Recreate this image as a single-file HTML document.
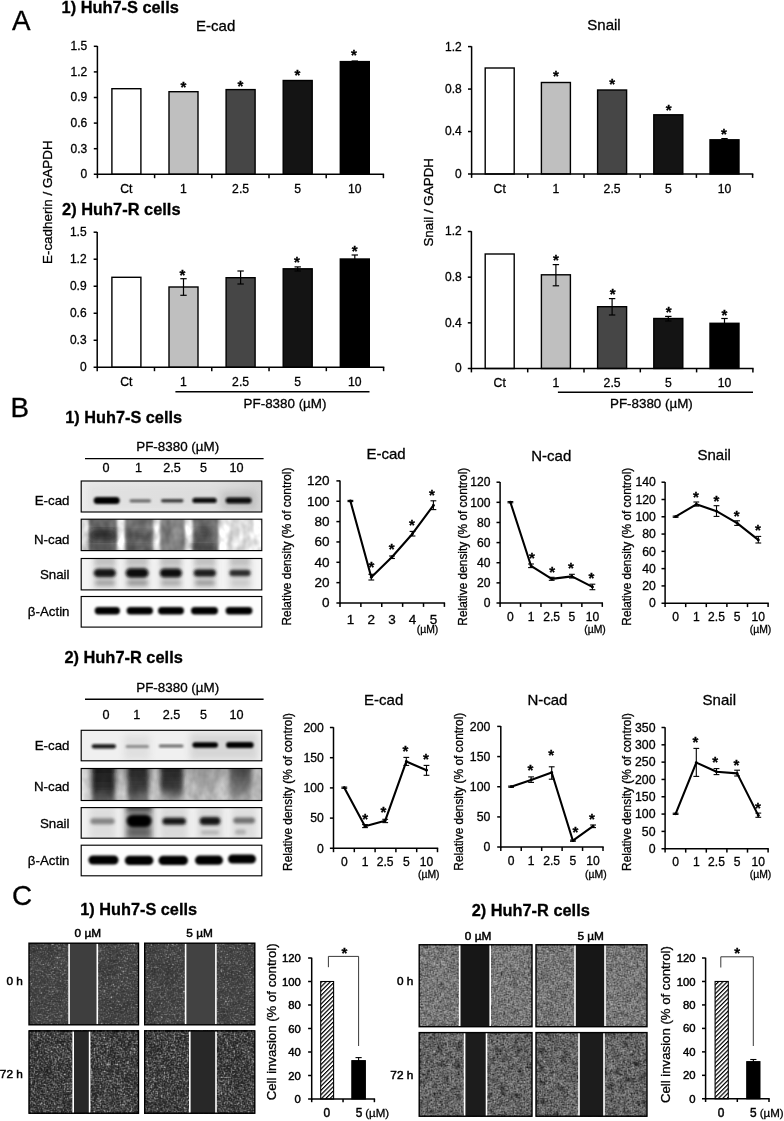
<!DOCTYPE html>
<html lang="en"><head><meta charset="utf-8"><title>Figure</title>
<style>
html,body{margin:0;padding:0;background:#fff;}
body{width:784px;height:1121px;overflow:hidden;}
svg{display:block;font-family:"Liberation Sans",sans-serif;fill:#000;}
svg text{stroke:#000;stroke-width:.3px;}
</style></head><body>
<svg width="784" height="1121" viewBox="0 0 784 1121">
<rect x="0" y="0" width="784" height="1121" fill="#ffffff" stroke="none"/>
<rect x="111.9" y="88.7" width="29" height="85.6" fill="#ffffff" stroke="#000" stroke-width="1.4"/>
<rect x="169" y="91.7" width="29" height="82.6" fill="#bfbfbf" stroke="#000" stroke-width="1.4"/>
<rect x="226.1" y="89.6" width="29" height="84.7" fill="#464646" stroke="#000" stroke-width="1.4"/>
<rect x="283.2" y="80.5" width="29" height="93.8" fill="#141414" stroke="#000" stroke-width="1.4"/>
<rect x="340.3" y="61.6" width="29" height="112.7" fill="#000000" stroke="#000" stroke-width="1.4"/>
<line x1="354.8" y1="61" x2="354.8" y2="62.2" stroke="#000" stroke-width="1.2"/>
<line x1="351.6" y1="61" x2="358" y2="61" stroke="#000" stroke-width="1.2"/>
<line x1="351.6" y1="62.2" x2="358" y2="62.2" stroke="#000" stroke-width="1.2"/>
<line x1="97.4" y1="46" x2="97.4" y2="175" stroke="#000" stroke-width="1.5"/>
<line x1="93.8" y1="174.3" x2="384.1" y2="174.3" stroke="#000" stroke-width="1.5"/>
<text x="87.3" y="178.2" font-size="12" text-anchor="end">0</text>
<line x1="93.8" y1="148.7" x2="97.4" y2="148.7" stroke="#000" stroke-width="1.5"/>
<text x="87.3" y="152.6" font-size="12" text-anchor="end">0.3</text>
<line x1="93.8" y1="123.1" x2="97.4" y2="123.1" stroke="#000" stroke-width="1.5"/>
<text x="87.3" y="127" font-size="12" text-anchor="end">0.6</text>
<line x1="93.8" y1="97.5" x2="97.4" y2="97.5" stroke="#000" stroke-width="1.5"/>
<text x="87.3" y="101.4" font-size="12" text-anchor="end">0.9</text>
<line x1="93.8" y1="71.9" x2="97.4" y2="71.9" stroke="#000" stroke-width="1.5"/>
<text x="87.3" y="75.8" font-size="12" text-anchor="end">1.2</text>
<line x1="93.8" y1="46.3" x2="97.4" y2="46.3" stroke="#000" stroke-width="1.5"/>
<text x="87.3" y="50.2" font-size="12" text-anchor="end">1.5</text>
<line x1="97.4" y1="174.3" x2="97.4" y2="178.2" stroke="#000" stroke-width="1.5"/>
<line x1="154.6" y1="174.3" x2="154.6" y2="178.2" stroke="#000" stroke-width="1.5"/>
<line x1="211.8" y1="174.3" x2="211.8" y2="178.2" stroke="#000" stroke-width="1.5"/>
<line x1="269" y1="174.3" x2="269" y2="178.2" stroke="#000" stroke-width="1.5"/>
<line x1="326.2" y1="174.3" x2="326.2" y2="178.2" stroke="#000" stroke-width="1.5"/>
<line x1="383.4" y1="174.3" x2="383.4" y2="178.2" stroke="#000" stroke-width="1.5"/>
<text x="126.4" y="192.8" font-size="12.2" text-anchor="middle">Ct</text>
<text x="183.5" y="192.8" font-size="12.2" text-anchor="middle">1</text>
<text x="240.6" y="192.8" font-size="12.2" text-anchor="middle">2.5</text>
<text x="297.7" y="192.8" font-size="12.2" text-anchor="middle">5</text>
<text x="354.8" y="192.8" font-size="12.2" text-anchor="middle">10</text>
<text x="183.5" y="92.4" font-size="15" text-anchor="middle" font-weight="bold">*</text>
<text x="240.3" y="90.7" font-size="15" text-anchor="middle" font-weight="bold">*</text>
<text x="297.4" y="79.9" font-size="15" text-anchor="middle" font-weight="bold">*</text>
<text x="353.8" y="59.9" font-size="15" text-anchor="middle" font-weight="bold">*</text>
<rect x="485.2" y="68" width="29" height="106" fill="#ffffff" stroke="#000" stroke-width="1.4"/>
<rect x="541.4" y="82.5" width="29" height="91.5" fill="#bfbfbf" stroke="#000" stroke-width="1.4"/>
<rect x="597.6" y="90" width="29" height="84" fill="#464646" stroke="#000" stroke-width="1.4"/>
<rect x="653.8" y="114.8" width="29" height="59.2" fill="#141414" stroke="#000" stroke-width="1.4"/>
<rect x="710" y="139.8" width="29" height="34.2" fill="#000000" stroke="#000" stroke-width="1.4"/>
<line x1="724.5" y1="138.6" x2="724.5" y2="141" stroke="#000" stroke-width="1.2"/>
<line x1="721.3" y1="138.6" x2="727.7" y2="138.6" stroke="#000" stroke-width="1.2"/>
<line x1="721.3" y1="141" x2="727.7" y2="141" stroke="#000" stroke-width="1.2"/>
<line x1="471.6" y1="46.3" x2="471.6" y2="174.7" stroke="#000" stroke-width="1.5"/>
<line x1="468" y1="174" x2="753.3" y2="174" stroke="#000" stroke-width="1.5"/>
<text x="461.7" y="177.9" font-size="12" text-anchor="end">0</text>
<line x1="468" y1="131.53" x2="471.6" y2="131.53" stroke="#000" stroke-width="1.5"/>
<text x="461.7" y="135.43" font-size="12" text-anchor="end">0.4</text>
<line x1="468" y1="89.07" x2="471.6" y2="89.07" stroke="#000" stroke-width="1.5"/>
<text x="461.7" y="92.97" font-size="12" text-anchor="end">0.8</text>
<line x1="468" y1="46.6" x2="471.6" y2="46.6" stroke="#000" stroke-width="1.5"/>
<text x="461.7" y="50.5" font-size="12" text-anchor="end">1.2</text>
<line x1="471.6" y1="174" x2="471.6" y2="177.9" stroke="#000" stroke-width="1.5"/>
<line x1="527.8" y1="174" x2="527.8" y2="177.9" stroke="#000" stroke-width="1.5"/>
<line x1="584" y1="174" x2="584" y2="177.9" stroke="#000" stroke-width="1.5"/>
<line x1="640.2" y1="174" x2="640.2" y2="177.9" stroke="#000" stroke-width="1.5"/>
<line x1="696.4" y1="174" x2="696.4" y2="177.9" stroke="#000" stroke-width="1.5"/>
<line x1="752.6" y1="174" x2="752.6" y2="177.9" stroke="#000" stroke-width="1.5"/>
<text x="499.7" y="192.8" font-size="12.2" text-anchor="middle">Ct</text>
<text x="555.9" y="192.8" font-size="12.2" text-anchor="middle">1</text>
<text x="612.1" y="192.8" font-size="12.2" text-anchor="middle">2.5</text>
<text x="668.3" y="192.8" font-size="12.2" text-anchor="middle">5</text>
<text x="724.5" y="192.8" font-size="12.2" text-anchor="middle">10</text>
<text x="556" y="80.9" font-size="15" text-anchor="middle" font-weight="bold">*</text>
<text x="612.2" y="88.5" font-size="15" text-anchor="middle" font-weight="bold">*</text>
<text x="668.7" y="115.4" font-size="15" text-anchor="middle" font-weight="bold">*</text>
<text x="723.8" y="138.9" font-size="15" text-anchor="middle" font-weight="bold">*</text>
<rect x="111.9" y="277.3" width="29" height="90" fill="#ffffff" stroke="#000" stroke-width="1.4"/>
<rect x="169" y="287" width="29" height="80.3" fill="#bfbfbf" stroke="#000" stroke-width="1.4"/>
<rect x="226.1" y="277.7" width="29" height="89.6" fill="#464646" stroke="#000" stroke-width="1.4"/>
<rect x="283.2" y="268.8" width="29" height="98.5" fill="#141414" stroke="#000" stroke-width="1.4"/>
<rect x="340.3" y="259" width="29" height="108.3" fill="#000000" stroke="#000" stroke-width="1.4"/>
<line x1="183.5" y1="278.7" x2="183.5" y2="295.3" stroke="#000" stroke-width="1.2"/>
<line x1="180.3" y1="278.7" x2="186.7" y2="278.7" stroke="#000" stroke-width="1.2"/>
<line x1="180.3" y1="295.3" x2="186.7" y2="295.3" stroke="#000" stroke-width="1.2"/>
<line x1="240.6" y1="271" x2="240.6" y2="284" stroke="#000" stroke-width="1.2"/>
<line x1="237.4" y1="271" x2="243.8" y2="271" stroke="#000" stroke-width="1.2"/>
<line x1="237.4" y1="284" x2="243.8" y2="284" stroke="#000" stroke-width="1.2"/>
<line x1="297.7" y1="266.9" x2="297.7" y2="271" stroke="#000" stroke-width="1.2"/>
<line x1="294.5" y1="266.9" x2="300.9" y2="266.9" stroke="#000" stroke-width="1.2"/>
<line x1="294.5" y1="271" x2="300.9" y2="271" stroke="#000" stroke-width="1.2"/>
<line x1="354.8" y1="255" x2="354.8" y2="263" stroke="#000" stroke-width="1.2"/>
<line x1="351.6" y1="255" x2="358" y2="255" stroke="#000" stroke-width="1.2"/>
<line x1="351.6" y1="263" x2="358" y2="263" stroke="#000" stroke-width="1.2"/>
<line x1="97.2" y1="231.9" x2="97.2" y2="368" stroke="#000" stroke-width="1.5"/>
<line x1="93.6" y1="367.3" x2="384.3" y2="367.3" stroke="#000" stroke-width="1.5"/>
<text x="86.6" y="371.2" font-size="12" text-anchor="end">0</text>
<line x1="93.6" y1="340.28" x2="97.2" y2="340.28" stroke="#000" stroke-width="1.5"/>
<text x="86.6" y="344.18" font-size="12" text-anchor="end">0.3</text>
<line x1="93.6" y1="313.26" x2="97.2" y2="313.26" stroke="#000" stroke-width="1.5"/>
<text x="86.6" y="317.16" font-size="12" text-anchor="end">0.6</text>
<line x1="93.6" y1="286.24" x2="97.2" y2="286.24" stroke="#000" stroke-width="1.5"/>
<text x="86.6" y="290.14" font-size="12" text-anchor="end">0.9</text>
<line x1="93.6" y1="259.22" x2="97.2" y2="259.22" stroke="#000" stroke-width="1.5"/>
<text x="86.6" y="263.12" font-size="12" text-anchor="end">1.2</text>
<line x1="93.6" y1="232.2" x2="97.2" y2="232.2" stroke="#000" stroke-width="1.5"/>
<text x="86.6" y="236.1" font-size="12" text-anchor="end">1.5</text>
<line x1="97.2" y1="367.3" x2="97.2" y2="371.2" stroke="#000" stroke-width="1.5"/>
<line x1="154.48" y1="367.3" x2="154.48" y2="371.2" stroke="#000" stroke-width="1.5"/>
<line x1="211.76" y1="367.3" x2="211.76" y2="371.2" stroke="#000" stroke-width="1.5"/>
<line x1="269.04" y1="367.3" x2="269.04" y2="371.2" stroke="#000" stroke-width="1.5"/>
<line x1="326.32" y1="367.3" x2="326.32" y2="371.2" stroke="#000" stroke-width="1.5"/>
<line x1="383.6" y1="367.3" x2="383.6" y2="371.2" stroke="#000" stroke-width="1.5"/>
<text x="126.4" y="385.5" font-size="12.2" text-anchor="middle">Ct</text>
<text x="183.5" y="385.5" font-size="12.2" text-anchor="middle">1</text>
<text x="240.6" y="385.5" font-size="12.2" text-anchor="middle">2.5</text>
<text x="297.7" y="385.5" font-size="12.2" text-anchor="middle">5</text>
<text x="354.8" y="385.5" font-size="12.2" text-anchor="middle">10</text>
<text x="182.5" y="279.5" font-size="15" text-anchor="middle" font-weight="bold">*</text>
<text x="297" y="266.9" font-size="15" text-anchor="middle" font-weight="bold">*</text>
<text x="354.7" y="256.2" font-size="15" text-anchor="middle" font-weight="bold">*</text>
<rect x="485.2" y="254" width="29" height="114.5" fill="#ffffff" stroke="#000" stroke-width="1.4"/>
<rect x="541.4" y="274.8" width="29" height="93.7" fill="#bfbfbf" stroke="#000" stroke-width="1.4"/>
<rect x="597.6" y="306.7" width="29" height="61.8" fill="#464646" stroke="#000" stroke-width="1.4"/>
<rect x="653.8" y="318.5" width="29" height="50" fill="#141414" stroke="#000" stroke-width="1.4"/>
<rect x="710" y="323.3" width="29" height="45.2" fill="#000000" stroke="#000" stroke-width="1.4"/>
<line x1="555.9" y1="264.6" x2="555.9" y2="285.8" stroke="#000" stroke-width="1.2"/>
<line x1="552.7" y1="264.6" x2="559.1" y2="264.6" stroke="#000" stroke-width="1.2"/>
<line x1="552.7" y1="285.8" x2="559.1" y2="285.8" stroke="#000" stroke-width="1.2"/>
<line x1="612.1" y1="298.6" x2="612.1" y2="315" stroke="#000" stroke-width="1.2"/>
<line x1="608.9" y1="298.6" x2="615.3" y2="298.6" stroke="#000" stroke-width="1.2"/>
<line x1="608.9" y1="315" x2="615.3" y2="315" stroke="#000" stroke-width="1.2"/>
<line x1="668.3" y1="316.4" x2="668.3" y2="321" stroke="#000" stroke-width="1.2"/>
<line x1="665.1" y1="316.4" x2="671.5" y2="316.4" stroke="#000" stroke-width="1.2"/>
<line x1="665.1" y1="321" x2="671.5" y2="321" stroke="#000" stroke-width="1.2"/>
<line x1="724.5" y1="318.5" x2="724.5" y2="328" stroke="#000" stroke-width="1.2"/>
<line x1="721.3" y1="318.5" x2="727.7" y2="318.5" stroke="#000" stroke-width="1.2"/>
<line x1="721.3" y1="328" x2="727.7" y2="328" stroke="#000" stroke-width="1.2"/>
<line x1="471.4" y1="231.2" x2="471.4" y2="369.2" stroke="#000" stroke-width="1.5"/>
<line x1="467.8" y1="368.5" x2="753.6" y2="368.5" stroke="#000" stroke-width="1.5"/>
<text x="461.7" y="372.4" font-size="12" text-anchor="end">0</text>
<line x1="467.8" y1="322.83" x2="471.4" y2="322.83" stroke="#000" stroke-width="1.5"/>
<text x="461.7" y="326.73" font-size="12" text-anchor="end">0.4</text>
<line x1="467.8" y1="277.17" x2="471.4" y2="277.17" stroke="#000" stroke-width="1.5"/>
<text x="461.7" y="281.07" font-size="12" text-anchor="end">0.8</text>
<line x1="467.8" y1="231.5" x2="471.4" y2="231.5" stroke="#000" stroke-width="1.5"/>
<text x="461.7" y="235.4" font-size="12" text-anchor="end">1.2</text>
<line x1="471.4" y1="368.5" x2="471.4" y2="372.4" stroke="#000" stroke-width="1.5"/>
<line x1="527.7" y1="368.5" x2="527.7" y2="372.4" stroke="#000" stroke-width="1.5"/>
<line x1="584" y1="368.5" x2="584" y2="372.4" stroke="#000" stroke-width="1.5"/>
<line x1="640.3" y1="368.5" x2="640.3" y2="372.4" stroke="#000" stroke-width="1.5"/>
<line x1="696.6" y1="368.5" x2="696.6" y2="372.4" stroke="#000" stroke-width="1.5"/>
<line x1="752.9" y1="368.5" x2="752.9" y2="372.4" stroke="#000" stroke-width="1.5"/>
<text x="499.7" y="386.8" font-size="12.2" text-anchor="middle">Ct</text>
<text x="555.9" y="386.8" font-size="12.2" text-anchor="middle">1</text>
<text x="612.1" y="386.8" font-size="12.2" text-anchor="middle">2.5</text>
<text x="668.3" y="386.8" font-size="12.2" text-anchor="middle">5</text>
<text x="724.5" y="386.8" font-size="12.2" text-anchor="middle">10</text>
<text x="556" y="264.7" font-size="15" text-anchor="middle" font-weight="bold">*</text>
<text x="612.7" y="298.9" font-size="15" text-anchor="middle" font-weight="bold">*</text>
<text x="668.7" y="316.7" font-size="15" text-anchor="middle" font-weight="bold">*</text>
<text x="724.3" y="319.5" font-size="15" text-anchor="middle" font-weight="bold">*</text>
<text x="11.9" y="29.7" font-size="27.8">A</text>
<text x="61.6" y="12.9" font-size="16.35" font-weight="bold">1) Huh7-S cells</text>
<text x="62.1" y="214.8" font-size="16.4" font-weight="bold">2) Huh7-R cells</text>
<text x="215.7" y="30.5" font-size="15" text-anchor="middle">E-cad</text>
<text x="604" y="30.3" font-size="15" text-anchor="middle">Snail</text>
<text x="52.3" y="202.2" font-size="13.4" text-anchor="middle" transform="rotate(-90 52.3 202.2)">E-cadherin / GAPDH</text>
<text x="433" y="202.3" font-size="13.4" text-anchor="middle" transform="rotate(-90 433 202.3)">Snail / GAPDH</text>
<line x1="175.4" y1="391.7" x2="369.5" y2="391.7" stroke="#000" stroke-width="1.4"/>
<text x="285" y="408" font-size="13.4" text-anchor="middle">PF-8380 (µM)</text>
<line x1="557.9" y1="392.2" x2="753" y2="392.2" stroke="#000" stroke-width="1.4"/>
<text x="651.4" y="407.6" font-size="13.4" text-anchor="middle">PF-8380 (µM)</text>
<defs>
<filter id="bl05" x="-20%" y="-50%" width="140%" height="200%"><feGaussianBlur stdDeviation="0.6"/></filter>
<filter id="bl1" x="-20%" y="-50%" width="140%" height="200%"><feGaussianBlur stdDeviation="1"/></filter>
<filter id="bl15" x="-20%" y="-50%" width="140%" height="200%"><feGaussianBlur stdDeviation="1.5"/></filter>
<filter id="bl2" x="-30%" y="-50%" width="160%" height="200%"><feGaussianBlur stdDeviation="2.2"/></filter>
<filter id="bl3" x="-30%" y="-30%" width="160%" height="160%"><feGaussianBlur stdDeviation="3"/></filter>
<linearGradient id="gE1" x1="0" x2="1" y1="0" y2="0"><stop offset="0" stop-color="#ececec"/><stop offset="0.7" stop-color="#e4e4e4"/><stop offset="1" stop-color="#d2d2d2"/></linearGradient>
<filter id="mot" x="0" y="0" width="100%" height="100%" color-interpolation-filters="sRGB">
<feTurbulence type="fractalNoise" baseFrequency="0.11 0.08" numOctaves="2" seed="5"/>
<feColorMatrix type="matrix" values="1.6 0 0 0 -0.3  1.6 0 0 0 -0.3  1.6 0 0 0 -0.3  0 0 0 0 1" result="n"/>
<feComposite in="SourceGraphic" in2="n" operator="arithmetic" k1="0.36" k2="0.83" k3="0" k4="0"/>
</filter>
<filter id="mot2" x="0" y="0" width="100%" height="100%" color-interpolation-filters="sRGB">
<feTurbulence type="fractalNoise" baseFrequency="0.13 0.09" numOctaves="2" seed="12"/>
<feColorMatrix type="matrix" values="1.6 0 0 0 -0.3  1.6 0 0 0 -0.3  1.6 0 0 0 -0.3  0 0 0 0 1" result="n"/>
<feComposite in="SourceGraphic" in2="n" operator="arithmetic" k1="0.2" k2="0.9" k3="0" k4="0"/>
</filter>
</defs>
<text x="10.6" y="416.9" font-size="27.8">B</text>
<text x="65.3" y="423.3" font-size="16.3" font-weight="bold">1) Huh7-S cells</text>
<text x="177.7" y="451.4" font-size="13.4" text-anchor="middle">PF-8380 (µM)</text>
<line x1="85" y1="458.6" x2="263.6" y2="458.6" stroke="#000" stroke-width="1.4"/>
<text x="106" y="472" font-size="12.6" text-anchor="middle">0</text>
<text x="138.6" y="472" font-size="12.6" text-anchor="middle">1</text>
<text x="172" y="472" font-size="12.6" text-anchor="middle">2.5</text>
<text x="203.6" y="472" font-size="12.6" text-anchor="middle">5</text>
<text x="236.4" y="472" font-size="12.6" text-anchor="middle">10</text>
<text x="69.5" y="505.3" font-size="13.3" text-anchor="end">E-cad</text>
<text x="69.5" y="543.9" font-size="13.3" text-anchor="end">N-cad</text>
<text x="69.5" y="578.9" font-size="13.3" text-anchor="end">Snail</text>
<text x="69.5" y="615.5" font-size="13.3" text-anchor="end">β-Actin</text>
<clipPath id="cp1"><rect x="81.2" y="481" width="180.6" height="31"/></clipPath>
<g clip-path="url(#cp1)">
<rect x="75.2" y="475" width="192.6" height="43" fill="url(#gE1)"/>
<rect x="88" y="484" width="168" height="26" fill="#c8c8c8" opacity="0.25" filter="url(#bl3)"/>
<rect x="93.7" y="497.1" width="26" height="7" rx="3.5" fill="#050505" opacity="1" filter="url(#bl1)"/>
<rect x="129.5" y="499.2" width="21.5" height="3.2" rx="1.6" fill="#6a6a6a" opacity="1" filter="url(#bl1)"/>
<rect x="161" y="499" width="22.5" height="3.6" rx="1.8" fill="#3c3c3c" opacity="1" filter="url(#bl1)"/>
<rect x="192.4" y="497.8" width="24.3" height="5.2" rx="2.6" fill="#0c0c0c" opacity="1" filter="url(#bl1)"/>
<rect x="222" y="492" width="34" height="17" fill="#9a9a9a" opacity="0.35" filter="url(#bl3)"/>
<rect x="225.6" y="497.6" width="26" height="6" rx="3" fill="#0a0a0a" opacity="1" filter="url(#bl1)"/>
</g>
<rect x="81.2" y="481" width="180.6" height="31" fill="none" stroke="#000" stroke-width="1.15"/>
<clipPath id="cp2"><rect x="81.2" y="519.2" width="180.6" height="31.4"/></clipPath>
<g clip-path="url(#cp2)">
<g filter="url(#mot)">
<rect x="75.2" y="513.2" width="192.6" height="43.4" fill="#f8f8f8"/>
<rect x="76" y="510" width="11" height="50" fill="#d0d0d0" opacity="0.8" filter="url(#bl15)"/>
<rect x="88.5" y="510" width="28.5" height="50" fill="#5a5a5a" opacity="0.95" filter="url(#bl15)"/>
<rect x="125" y="510" width="28.5" height="50" fill="#666666" opacity="0.95" filter="url(#bl15)"/>
<rect x="160" y="510" width="25" height="50" fill="#747474" opacity="0.92" filter="url(#bl15)"/>
<rect x="192.5" y="510" width="26" height="50" fill="#626262" opacity="0.95" filter="url(#bl15)"/>
<rect x="227" y="510" width="26" height="50" fill="#d6d6d6" opacity="0.85" filter="url(#bl2)"/>
<rect x="89" y="530" width="28" height="10" rx="5" fill="#181818" opacity="0.7" filter="url(#bl3)"/>
<rect x="125" y="531.5" width="28" height="9" rx="4.5" fill="#2a2a2a" opacity="0.45" filter="url(#bl3)"/>
<rect x="125" y="545.5" width="28" height="6" rx="3" fill="#2a2a2a" opacity="0.45" filter="url(#bl3)"/>
<rect x="89" y="546" width="28" height="5" rx="2.5" fill="#2a2a2a" opacity="0.35" filter="url(#bl3)"/>
<rect x="193" y="529" width="20" height="10" rx="5" fill="#242424" opacity="0.45" filter="url(#bl3)"/>
<rect x="192" y="545" width="22" height="6" rx="3" fill="#181818" opacity="0.65" filter="url(#bl3)"/>
</g>
</g>
<rect x="81.2" y="519.2" width="180.6" height="31.4" fill="none" stroke="#000" stroke-width="1.15"/>
<clipPath id="cp3"><rect x="81.2" y="558.5" width="180.6" height="31.4"/></clipPath>
<g clip-path="url(#cp3)">
<rect x="75.2" y="552.5" width="192.6" height="43.4" fill="#f5f5f5"/>
<rect x="92.7" y="556" width="24.3" height="36" fill="#c0c0c0" opacity="0.45" filter="url(#bl3)"/>
<rect x="94.7" y="556" width="20.3" height="10" fill="#9a9a9a" opacity="0.4" filter="url(#bl2)"/>
<rect x="93.7" y="568.75" width="22.3" height="8.5" rx="4.25" fill="#161616" opacity="1" filter="url(#bl15)"/>
<rect x="124.6" y="556" width="25" height="36" fill="#c0c0c0" opacity="0.45" filter="url(#bl3)"/>
<rect x="126.6" y="556" width="21" height="10" fill="#9a9a9a" opacity="0.4" filter="url(#bl2)"/>
<rect x="125.6" y="568.25" width="23" height="9.5" rx="4.75" fill="#080808" opacity="1" filter="url(#bl15)"/>
<rect x="158.8" y="556" width="24.2" height="36" fill="#c0c0c0" opacity="0.45" filter="url(#bl3)"/>
<rect x="160.8" y="556" width="20.2" height="10" fill="#9a9a9a" opacity="0.4" filter="url(#bl2)"/>
<rect x="159.8" y="568.5" width="22.2" height="9" rx="4.5" fill="#0c0c0c" opacity="1" filter="url(#bl15)"/>
<rect x="192.7" y="556" width="24.3" height="36" fill="#c0c0c0" opacity="0.45" filter="url(#bl3)"/>
<rect x="194.7" y="556" width="20.3" height="10" fill="#9a9a9a" opacity="0.4" filter="url(#bl2)"/>
<rect x="193.7" y="569.25" width="22.3" height="7.5" rx="3.75" fill="#1c1c1c" opacity="1" filter="url(#bl15)"/>
<rect x="228.4" y="556" width="23.2" height="36" fill="#c0c0c0" opacity="0.45" filter="url(#bl3)"/>
<rect x="230.4" y="556" width="19.2" height="10" fill="#9a9a9a" opacity="0.4" filter="url(#bl2)"/>
<rect x="229.4" y="569.75" width="21.2" height="6.5" rx="3.25" fill="#2c2c2c" opacity="1" filter="url(#bl15)"/>
<rect x="95" y="580.3" width="20" height="5" rx="2.5" fill="#707070" opacity="0.6" filter="url(#bl2)"/>
<rect x="127" y="580.3" width="21" height="5" rx="2.5" fill="#707070" opacity="0.7" filter="url(#bl2)"/>
<rect x="161" y="580.3" width="20" height="5" rx="2.5" fill="#707070" opacity="0.5" filter="url(#bl2)"/>
<rect x="195" y="580.3" width="20" height="5" rx="2.5" fill="#707070" opacity="0.65" filter="url(#bl2)"/>
<rect x="231" y="580.3" width="19" height="5" rx="2.5" fill="#707070" opacity="0.2" filter="url(#bl2)"/>
</g>
<rect x="81.2" y="558.5" width="180.6" height="31.4" fill="none" stroke="#000" stroke-width="1.15"/>
<clipPath id="cp4"><rect x="81.2" y="596.5" width="180.6" height="30.6"/></clipPath>
<g clip-path="url(#cp4)">
<rect x="75.2" y="590.5" width="192.6" height="42.6" fill="#fdfdfd"/>
<rect x="94.7" y="607" width="25.3" height="7.4" rx="3.7" fill="#000" opacity="1" filter="url(#bl1)"/>
<rect x="126.6" y="607" width="26.4" height="7.4" rx="3.7" fill="#000" opacity="1" filter="url(#bl1)"/>
<rect x="158" y="607" width="26" height="7.4" rx="3.7" fill="#000" opacity="1" filter="url(#bl1)"/>
<rect x="191" y="607" width="27" height="7.4" rx="3.7" fill="#000" opacity="1" filter="url(#bl1)"/>
<rect x="225.6" y="607" width="26.8" height="7.4" rx="3.7" fill="#000" opacity="1" filter="url(#bl1)"/>
</g>
<rect x="81.2" y="596.5" width="180.6" height="30.6" fill="none" stroke="#000" stroke-width="1.15"/>
<text x="64.4" y="663" font-size="16.4" font-weight="bold">2) Huh7-R cells</text>
<text x="177.7" y="691.8" font-size="13.4" text-anchor="middle">PF-8380 (µM)</text>
<line x1="85" y1="699.3" x2="263.6" y2="699.3" stroke="#000" stroke-width="1.4"/>
<text x="106" y="719.3" font-size="12.6" text-anchor="middle">0</text>
<text x="136.8" y="719.3" font-size="12.6" text-anchor="middle">1</text>
<text x="171.4" y="719.3" font-size="12.6" text-anchor="middle">2.5</text>
<text x="203.6" y="719.3" font-size="12.6" text-anchor="middle">5</text>
<text x="236.4" y="719.3" font-size="12.6" text-anchor="middle">10</text>
<text x="69.5" y="750.3" font-size="13.3" text-anchor="end">E-cad</text>
<text x="69.5" y="790.7" font-size="13.3" text-anchor="end">N-cad</text>
<text x="69.5" y="828.3" font-size="13.3" text-anchor="end">Snail</text>
<text x="69.5" y="865" font-size="13.3" text-anchor="end">β-Actin</text>
<clipPath id="cp5"><rect x="81.2" y="730.3" width="180.6" height="30.5"/></clipPath>
<g clip-path="url(#cp5)">
<rect x="75.2" y="724.3" width="192.6" height="42.5" fill="#f0f0f0"/>
<rect x="190" y="733" width="68" height="27" fill="#bdbdbd" opacity="0.5" filter="url(#bl3)"/>
<rect x="124" y="735" width="26" height="25" fill="#d0d0d0" opacity="0.5" filter="url(#bl3)"/>
<rect x="91.7" y="744.2" width="24.3" height="4.2" rx="2.1" fill="#161616" opacity="1" filter="url(#bl1)"/>
<rect x="125.6" y="745.1" width="23.4" height="3" rx="1.5" fill="#8c8c8c" opacity="1" filter="url(#bl1)"/>
<rect x="158.8" y="744.5" width="24.7" height="3" rx="1.5" fill="#6c6c6c" opacity="1" filter="url(#bl1)"/>
<rect x="192.4" y="742.2" width="25.6" height="5.6" rx="2.8" fill="#060606" opacity="1" filter="url(#bl1)"/>
<rect x="226" y="741.9" width="27.7" height="6.2" rx="3.1" fill="#060606" opacity="1" filter="url(#bl1)"/>
</g>
<rect x="81.2" y="730.3" width="180.6" height="30.5" fill="none" stroke="#000" stroke-width="1.15"/>
<defs>
<linearGradient id="gN0" gradientUnits="userSpaceOnUse" x1="0" x2="0" y1="768.5" y2="800.5"><stop offset="0" stop-color="#161616"/><stop offset="0.6" stop-color="#242424"/><stop offset="1" stop-color="#5a5a5a"/></linearGradient>
<linearGradient id="gN1" gradientUnits="userSpaceOnUse" x1="0" x2="0" y1="768.5" y2="800.5"><stop offset="0" stop-color="#1e1e1e"/><stop offset="0.6" stop-color="#2e2e2e"/><stop offset="1" stop-color="#6a6a6a"/></linearGradient>
<linearGradient id="gN2" gradientUnits="userSpaceOnUse" x1="0" x2="0" y1="768.5" y2="800.5"><stop offset="0" stop-color="#1c1c1c"/><stop offset="0.6" stop-color="#303030"/><stop offset="1" stop-color="#9a9a9a"/></linearGradient>
<linearGradient id="gN3" gradientUnits="userSpaceOnUse" x1="0" x2="0" y1="768.5" y2="800.5"><stop offset="0" stop-color="#8c8c8c"/><stop offset="0.6" stop-color="#a4a4a4"/><stop offset="1" stop-color="#b4b4b4"/></linearGradient>
<linearGradient id="gN4" gradientUnits="userSpaceOnUse" x1="0" x2="0" y1="768.5" y2="800.5"><stop offset="0" stop-color="#3c3c3c"/><stop offset="0.6" stop-color="#686868"/><stop offset="1" stop-color="#9c9c9c"/></linearGradient>
<linearGradient id="gNb" gradientUnits="userSpaceOnUse" x1="0" x2="0" y1="768.5" y2="800.5"><stop offset="0" stop-color="#a8a8a8"/><stop offset="0.6" stop-color="#c0c0c0"/><stop offset="1" stop-color="#cacaca"/></linearGradient>
</defs>
<clipPath id="cp6"><rect x="81.2" y="768.5" width="180.6" height="32"/></clipPath>
<g clip-path="url(#cp6)">
<g filter="url(#mot2)">
<rect x="75.2" y="762.5" width="192.6" height="44" fill="url(#gNb)"/>
<rect x="74" y="758" width="13" height="53" fill="#ececec" opacity="0.7" filter="url(#bl2)"/>
<rect x="92" y="758" width="23" height="53" fill="url(#gN0)" opacity="0.95" filter="url(#bl2)"/>
<rect x="127.5" y="758" width="21" height="53" fill="url(#gN1)" opacity="0.93" filter="url(#bl2)"/>
<rect x="160.5" y="758" width="22.5" height="53" fill="url(#gN2)" opacity="0.93" filter="url(#bl2)"/>
<rect x="193" y="758" width="24" height="53" fill="url(#gN3)" opacity="0.8" filter="url(#bl3)"/>
<rect x="229.5" y="758" width="22" height="53" fill="url(#gN4)" opacity="0.9" filter="url(#bl2)"/>
<rect x="256" y="758" width="10" height="53" fill="#b0b0b0" opacity="0.6" filter="url(#bl2)"/>
</g>
</g>
<rect x="81.2" y="768.5" width="180.6" height="32" fill="none" stroke="#000" stroke-width="1.15"/>
<clipPath id="cp7"><rect x="81.2" y="807.6" width="180.6" height="30.6"/></clipPath>
<g clip-path="url(#cp7)">
<rect x="75.2" y="801.6" width="192.6" height="42.6" fill="#f3f3f3"/>
<rect x="89" y="806" width="27" height="34" fill="#c4c4c4" opacity="0.45" filter="url(#bl3)"/>
<rect x="160" y="806" width="28" height="34" fill="#c4c4c4" opacity="0.55" filter="url(#bl3)"/>
<rect x="197" y="806" width="26" height="34" fill="#c4c4c4" opacity="0.55" filter="url(#bl3)"/>
<rect x="231" y="806" width="26" height="34" fill="#c4c4c4" opacity="0.45" filter="url(#bl3)"/>
<rect x="125" y="800" width="28" height="46" fill="#4a4a4a" opacity="0.6" filter="url(#bl3)"/>
<rect x="127" y="805" width="24" height="6" fill="#202020" opacity="0.6" filter="url(#bl2)"/>
<rect x="128" y="828" width="22" height="8" fill="#303030" opacity="0.45" filter="url(#bl2)"/>
<rect x="90.4" y="818.2" width="24.2" height="6" rx="3" fill="#858585" opacity="1" filter="url(#bl15)"/>
<rect x="126.6" y="814.75" width="25" height="12.5" rx="6.25" fill="#020202" opacity="1" filter="url(#bl15)"/>
<rect x="162.3" y="817.7" width="23.7" height="7" rx="3.5" fill="#141414" opacity="1" filter="url(#bl15)"/>
<rect x="199.6" y="817" width="20.9" height="8" rx="4" fill="#161616" opacity="1" filter="url(#bl15)"/>
<rect x="233.3" y="817.6" width="21.7" height="6" rx="3" fill="#707070" opacity="1" filter="url(#bl15)"/>
<rect x="201" y="830.75" width="18" height="3.5" rx="1.75" fill="#8a8a8a" opacity="0.5" filter="url(#bl15)"/>
<rect x="235" y="829.5" width="11" height="5" rx="2.5" fill="#8a8a8a" opacity="0.55" filter="url(#bl15)"/>
</g>
<rect x="81.2" y="807.6" width="180.6" height="30.6" fill="none" stroke="#000" stroke-width="1.15"/>
<clipPath id="cp8"><rect x="81.2" y="845.2" width="180.6" height="30.6"/></clipPath>
<g clip-path="url(#cp8)">
<rect x="75.2" y="839.2" width="192.6" height="42.6" fill="#fdfdfd"/>
<rect x="88.4" y="855.4" width="30.1" height="9.2" rx="4.6" fill="#000" opacity="1" filter="url(#bl1)"/>
<rect x="124.8" y="855.8" width="28.6" height="9.2" rx="4.6" fill="#000" opacity="1" filter="url(#bl1)"/>
<rect x="158.5" y="855.8" width="29.5" height="9.2" rx="4.6" fill="#000" opacity="1" filter="url(#bl1)"/>
<rect x="195" y="855.6" width="28" height="9.2" rx="4.6" fill="#000" opacity="1" filter="url(#bl1)"/>
<rect x="228" y="854.4" width="28" height="9.2" rx="4.6" fill="#000" opacity="1" filter="url(#bl1)"/>
</g>
<rect x="81.2" y="845.2" width="180.6" height="30.6" fill="none" stroke="#000" stroke-width="1.15"/>
<line x1="340" y1="480.6" x2="340" y2="603.7" stroke="#000" stroke-width="1.5"/>
<line x1="336.4" y1="603" x2="445.1" y2="603" stroke="#000" stroke-width="1.5"/>
<text x="329.5" y="607.25" font-size="13.5" text-anchor="end">0</text>
<line x1="336.4" y1="582.65" x2="340" y2="582.65" stroke="#000" stroke-width="1.5"/>
<text x="329.5" y="586.9" font-size="13.5" text-anchor="end">20</text>
<line x1="336.4" y1="562.3" x2="340" y2="562.3" stroke="#000" stroke-width="1.5"/>
<text x="329.5" y="566.55" font-size="13.5" text-anchor="end">40</text>
<line x1="336.4" y1="541.95" x2="340" y2="541.95" stroke="#000" stroke-width="1.5"/>
<text x="329.5" y="546.2" font-size="13.5" text-anchor="end">60</text>
<line x1="336.4" y1="521.6" x2="340" y2="521.6" stroke="#000" stroke-width="1.5"/>
<text x="329.5" y="525.85" font-size="13.5" text-anchor="end">80</text>
<line x1="336.4" y1="501.25" x2="340" y2="501.25" stroke="#000" stroke-width="1.5"/>
<text x="329.5" y="505.5" font-size="13.5" text-anchor="end">100</text>
<line x1="336.4" y1="480.9" x2="340" y2="480.9" stroke="#000" stroke-width="1.5"/>
<text x="329.5" y="485.15" font-size="13.5" text-anchor="end">120</text>
<line x1="340" y1="603" x2="340" y2="606.9" stroke="#000" stroke-width="1.5"/>
<line x1="360.88" y1="603" x2="360.88" y2="606.9" stroke="#000" stroke-width="1.5"/>
<line x1="381.76" y1="603" x2="381.76" y2="606.9" stroke="#000" stroke-width="1.5"/>
<line x1="402.64" y1="603" x2="402.64" y2="606.9" stroke="#000" stroke-width="1.5"/>
<line x1="423.52" y1="603" x2="423.52" y2="606.9" stroke="#000" stroke-width="1.5"/>
<line x1="444.4" y1="603" x2="444.4" y2="606.9" stroke="#000" stroke-width="1.5"/>
<line x1="350.4" y1="500.4" x2="350.4" y2="501.6" stroke="#000" stroke-width="1.1"/>
<line x1="347.5" y1="500.4" x2="353.3" y2="500.4" stroke="#000" stroke-width="1.1"/>
<line x1="347.5" y1="501.6" x2="353.3" y2="501.6" stroke="#000" stroke-width="1.1"/>
<line x1="371.3" y1="574.3" x2="371.3" y2="580" stroke="#000" stroke-width="1.1"/>
<line x1="368.4" y1="574.3" x2="374.2" y2="574.3" stroke="#000" stroke-width="1.1"/>
<line x1="368.4" y1="580" x2="374.2" y2="580" stroke="#000" stroke-width="1.1"/>
<line x1="392" y1="556" x2="392" y2="558.5" stroke="#000" stroke-width="1.1"/>
<line x1="389.1" y1="556" x2="394.9" y2="556" stroke="#000" stroke-width="1.1"/>
<line x1="389.1" y1="558.5" x2="394.9" y2="558.5" stroke="#000" stroke-width="1.1"/>
<line x1="412.5" y1="531.4" x2="412.5" y2="536" stroke="#000" stroke-width="1.1"/>
<line x1="409.6" y1="531.4" x2="415.4" y2="531.4" stroke="#000" stroke-width="1.1"/>
<line x1="409.6" y1="536" x2="415.4" y2="536" stroke="#000" stroke-width="1.1"/>
<line x1="433.4" y1="500.8" x2="433.4" y2="509.6" stroke="#000" stroke-width="1.1"/>
<line x1="430.5" y1="500.8" x2="436.3" y2="500.8" stroke="#000" stroke-width="1.1"/>
<line x1="430.5" y1="509.6" x2="436.3" y2="509.6" stroke="#000" stroke-width="1.1"/>
<polyline points="350.4,501 371.3,577.3 392,557 412.5,533.7 433.4,505.4" fill="none" stroke="#000" stroke-width="2.1" stroke-linejoin="round" stroke-linecap="round"/>
<circle cx="350.4" cy="501" r="1.4" fill="#000"/>
<circle cx="371.3" cy="577.3" r="1.4" fill="#000"/>
<circle cx="392" cy="557" r="1.4" fill="#000"/>
<circle cx="412.5" cy="533.7" r="1.4" fill="#000"/>
<circle cx="433.4" cy="505.4" r="1.4" fill="#000"/>
<text x="371.4" y="571.9" font-size="15" text-anchor="middle" font-weight="bold">*</text>
<text x="391.6" y="554.3" font-size="15" text-anchor="middle" font-weight="bold">*</text>
<text x="412" y="529.9" font-size="15" text-anchor="middle" font-weight="bold">*</text>
<text x="432" y="500.4" font-size="15" text-anchor="middle" font-weight="bold">*</text>
<text x="350.4" y="623.6" font-size="13.5" text-anchor="middle">1</text>
<text x="371.3" y="623.6" font-size="13.5" text-anchor="middle">2</text>
<text x="392" y="623.6" font-size="13.5" text-anchor="middle">3</text>
<text x="412.5" y="623.6" font-size="13.5" text-anchor="middle">4</text>
<text x="433.4" y="623.6" font-size="13.5" text-anchor="middle">5</text>
<text x="427.5" y="632.9" font-size="10.4" text-anchor="middle">(µM)</text>
<text x="386" y="459.2" font-size="15" text-anchor="middle">E-cad</text>
<text x="290.8" y="546.5" font-size="11.9" text-anchor="middle" transform="rotate(-90 290.8 546.5)">Relative density (% of control)</text>
<line x1="500.1" y1="481.9" x2="500.1" y2="603.7" stroke="#000" stroke-width="1.5"/>
<line x1="496.5" y1="603" x2="603" y2="603" stroke="#000" stroke-width="1.5"/>
<text x="490.5" y="607.25" font-size="12.1" text-anchor="end">0</text>
<line x1="496.5" y1="582.87" x2="500.1" y2="582.87" stroke="#000" stroke-width="1.5"/>
<text x="490.5" y="587.12" font-size="12.1" text-anchor="end">20</text>
<line x1="496.5" y1="562.73" x2="500.1" y2="562.73" stroke="#000" stroke-width="1.5"/>
<text x="490.5" y="566.98" font-size="12.1" text-anchor="end">40</text>
<line x1="496.5" y1="542.6" x2="500.1" y2="542.6" stroke="#000" stroke-width="1.5"/>
<text x="490.5" y="546.85" font-size="12.1" text-anchor="end">60</text>
<line x1="496.5" y1="522.47" x2="500.1" y2="522.47" stroke="#000" stroke-width="1.5"/>
<text x="490.5" y="526.72" font-size="12.1" text-anchor="end">80</text>
<line x1="496.5" y1="502.33" x2="500.1" y2="502.33" stroke="#000" stroke-width="1.5"/>
<text x="490.5" y="506.58" font-size="12.1" text-anchor="end">100</text>
<line x1="496.5" y1="482.2" x2="500.1" y2="482.2" stroke="#000" stroke-width="1.5"/>
<text x="490.5" y="486.45" font-size="12.1" text-anchor="end">120</text>
<line x1="500.1" y1="603" x2="500.1" y2="606.9" stroke="#000" stroke-width="1.5"/>
<line x1="520.54" y1="603" x2="520.54" y2="606.9" stroke="#000" stroke-width="1.5"/>
<line x1="540.98" y1="603" x2="540.98" y2="606.9" stroke="#000" stroke-width="1.5"/>
<line x1="561.42" y1="603" x2="561.42" y2="606.9" stroke="#000" stroke-width="1.5"/>
<line x1="581.86" y1="603" x2="581.86" y2="606.9" stroke="#000" stroke-width="1.5"/>
<line x1="602.3" y1="603" x2="602.3" y2="606.9" stroke="#000" stroke-width="1.5"/>
<line x1="510.4" y1="501.6" x2="510.4" y2="502.8" stroke="#000" stroke-width="1.1"/>
<line x1="507.5" y1="501.6" x2="513.3" y2="501.6" stroke="#000" stroke-width="1.1"/>
<line x1="507.5" y1="502.8" x2="513.3" y2="502.8" stroke="#000" stroke-width="1.1"/>
<line x1="531" y1="564" x2="531" y2="567.6" stroke="#000" stroke-width="1.1"/>
<line x1="528.1" y1="564" x2="533.9" y2="564" stroke="#000" stroke-width="1.1"/>
<line x1="528.1" y1="567.6" x2="533.9" y2="567.6" stroke="#000" stroke-width="1.1"/>
<line x1="551.7" y1="577.3" x2="551.7" y2="580.3" stroke="#000" stroke-width="1.1"/>
<line x1="548.8" y1="577.3" x2="554.6" y2="577.3" stroke="#000" stroke-width="1.1"/>
<line x1="548.8" y1="580.3" x2="554.6" y2="580.3" stroke="#000" stroke-width="1.1"/>
<line x1="571.9" y1="574.3" x2="571.9" y2="578" stroke="#000" stroke-width="1.1"/>
<line x1="569" y1="574.3" x2="574.8" y2="574.3" stroke="#000" stroke-width="1.1"/>
<line x1="569" y1="578" x2="574.8" y2="578" stroke="#000" stroke-width="1.1"/>
<line x1="592.4" y1="584.2" x2="592.4" y2="589.7" stroke="#000" stroke-width="1.1"/>
<line x1="589.5" y1="584.2" x2="595.3" y2="584.2" stroke="#000" stroke-width="1.1"/>
<line x1="589.5" y1="589.7" x2="595.3" y2="589.7" stroke="#000" stroke-width="1.1"/>
<polyline points="510.4,502.2 531,565.8 551.7,578.9 571.9,576.4 592.4,586.9" fill="none" stroke="#000" stroke-width="2.1" stroke-linejoin="round" stroke-linecap="round"/>
<circle cx="510.4" cy="502.2" r="1.4" fill="#000"/>
<circle cx="531" cy="565.8" r="1.4" fill="#000"/>
<circle cx="551.7" cy="578.9" r="1.4" fill="#000"/>
<circle cx="571.9" cy="576.4" r="1.4" fill="#000"/>
<circle cx="592.4" cy="586.9" r="1.4" fill="#000"/>
<text x="531.8" y="562.9" font-size="15" text-anchor="middle" font-weight="bold">*</text>
<text x="552.2" y="577.3" font-size="15" text-anchor="middle" font-weight="bold">*</text>
<text x="570.8" y="573.2" font-size="15" text-anchor="middle" font-weight="bold">*</text>
<text x="591.5" y="583" font-size="15" text-anchor="middle" font-weight="bold">*</text>
<text x="510.4" y="621.4" font-size="12.1" text-anchor="middle">0</text>
<text x="531" y="621.4" font-size="12.1" text-anchor="middle">1</text>
<text x="551.7" y="621.4" font-size="12.1" text-anchor="middle">2.5</text>
<text x="571.9" y="621.4" font-size="12.1" text-anchor="middle">5</text>
<text x="592.4" y="621.4" font-size="12.1" text-anchor="middle">10</text>
<text x="595" y="632.9" font-size="10.4" text-anchor="middle">(µM)</text>
<text x="551.3" y="460.7" font-size="15" text-anchor="middle">N-cad</text>
<text x="467.2" y="546.7" font-size="11.9" text-anchor="middle" transform="rotate(-90 467.2 546.7)">Relative density (% of control)</text>
<line x1="665.1" y1="481.9" x2="665.1" y2="603.9" stroke="#000" stroke-width="1.5"/>
<line x1="661.5" y1="603.2" x2="768.8" y2="603.2" stroke="#000" stroke-width="1.5"/>
<text x="655.8" y="607.45" font-size="12.2" text-anchor="end">0</text>
<line x1="661.5" y1="585.91" x2="665.1" y2="585.91" stroke="#000" stroke-width="1.5"/>
<text x="655.8" y="590.16" font-size="12.2" text-anchor="end">20</text>
<line x1="661.5" y1="568.63" x2="665.1" y2="568.63" stroke="#000" stroke-width="1.5"/>
<text x="655.8" y="572.88" font-size="12.2" text-anchor="end">40</text>
<line x1="661.5" y1="551.34" x2="665.1" y2="551.34" stroke="#000" stroke-width="1.5"/>
<text x="655.8" y="555.59" font-size="12.2" text-anchor="end">60</text>
<line x1="661.5" y1="534.06" x2="665.1" y2="534.06" stroke="#000" stroke-width="1.5"/>
<text x="655.8" y="538.31" font-size="12.2" text-anchor="end">80</text>
<line x1="661.5" y1="516.77" x2="665.1" y2="516.77" stroke="#000" stroke-width="1.5"/>
<text x="655.8" y="521.02" font-size="12.2" text-anchor="end">100</text>
<line x1="661.5" y1="499.49" x2="665.1" y2="499.49" stroke="#000" stroke-width="1.5"/>
<text x="655.8" y="503.74" font-size="12.2" text-anchor="end">120</text>
<line x1="661.5" y1="482.2" x2="665.1" y2="482.2" stroke="#000" stroke-width="1.5"/>
<text x="655.8" y="486.45" font-size="12.2" text-anchor="end">140</text>
<line x1="665.1" y1="603.2" x2="665.1" y2="607.1" stroke="#000" stroke-width="1.5"/>
<line x1="685.7" y1="603.2" x2="685.7" y2="607.1" stroke="#000" stroke-width="1.5"/>
<line x1="706.3" y1="603.2" x2="706.3" y2="607.1" stroke="#000" stroke-width="1.5"/>
<line x1="726.9" y1="603.2" x2="726.9" y2="607.1" stroke="#000" stroke-width="1.5"/>
<line x1="747.5" y1="603.2" x2="747.5" y2="607.1" stroke="#000" stroke-width="1.5"/>
<line x1="768.1" y1="603.2" x2="768.1" y2="607.1" stroke="#000" stroke-width="1.5"/>
<line x1="675.6" y1="516.1" x2="675.6" y2="517.3" stroke="#000" stroke-width="1.1"/>
<line x1="672.7" y1="516.1" x2="678.5" y2="516.1" stroke="#000" stroke-width="1.1"/>
<line x1="672.7" y1="517.3" x2="678.5" y2="517.3" stroke="#000" stroke-width="1.1"/>
<line x1="696.3" y1="502" x2="696.3" y2="506.1" stroke="#000" stroke-width="1.1"/>
<line x1="693.4" y1="502" x2="699.2" y2="502" stroke="#000" stroke-width="1.1"/>
<line x1="693.4" y1="506.1" x2="699.2" y2="506.1" stroke="#000" stroke-width="1.1"/>
<line x1="716.5" y1="505.7" x2="716.5" y2="516.4" stroke="#000" stroke-width="1.1"/>
<line x1="713.6" y1="505.7" x2="719.4" y2="505.7" stroke="#000" stroke-width="1.1"/>
<line x1="713.6" y1="516.4" x2="719.4" y2="516.4" stroke="#000" stroke-width="1.1"/>
<line x1="737.1" y1="520.8" x2="737.1" y2="525.4" stroke="#000" stroke-width="1.1"/>
<line x1="734.2" y1="520.8" x2="740" y2="520.8" stroke="#000" stroke-width="1.1"/>
<line x1="734.2" y1="525.4" x2="740" y2="525.4" stroke="#000" stroke-width="1.1"/>
<line x1="758.3" y1="536.4" x2="758.3" y2="543" stroke="#000" stroke-width="1.1"/>
<line x1="755.4" y1="536.4" x2="761.2" y2="536.4" stroke="#000" stroke-width="1.1"/>
<line x1="755.4" y1="543" x2="761.2" y2="543" stroke="#000" stroke-width="1.1"/>
<polyline points="675.6,516.7 696.3,504.3 716.5,511.2 737.1,523.1 758.3,539.9" fill="none" stroke="#000" stroke-width="2.1" stroke-linejoin="round" stroke-linecap="round"/>
<circle cx="675.6" cy="516.7" r="1.4" fill="#000"/>
<circle cx="696.3" cy="504.3" r="1.4" fill="#000"/>
<circle cx="716.5" cy="511.2" r="1.4" fill="#000"/>
<circle cx="737.1" cy="523.1" r="1.4" fill="#000"/>
<circle cx="758.3" cy="539.9" r="1.4" fill="#000"/>
<text x="695.8" y="501.5" font-size="15" text-anchor="middle" font-weight="bold">*</text>
<text x="716.5" y="506.1" font-size="15" text-anchor="middle" font-weight="bold">*</text>
<text x="736.7" y="520.8" font-size="15" text-anchor="middle" font-weight="bold">*</text>
<text x="757.8" y="535.3" font-size="15" text-anchor="middle" font-weight="bold">*</text>
<text x="675.6" y="621.4" font-size="12.1" text-anchor="middle">0</text>
<text x="696.3" y="621.4" font-size="12.1" text-anchor="middle">1</text>
<text x="716.5" y="621.4" font-size="12.1" text-anchor="middle">2.5</text>
<text x="737.1" y="621.4" font-size="12.1" text-anchor="middle">5</text>
<text x="758.3" y="621.4" font-size="12.1" text-anchor="middle">10</text>
<text x="760.5" y="632.9" font-size="10.4" text-anchor="middle">(µM)</text>
<text x="714.2" y="460.2" font-size="15" text-anchor="middle">Snail</text>
<text x="631.3" y="546.7" font-size="11.9" text-anchor="middle" transform="rotate(-90 631.3 546.7)">Relative density (% of control)</text>
<line x1="333.5" y1="727.2" x2="333.5" y2="849" stroke="#000" stroke-width="1.5"/>
<line x1="329.9" y1="848.3" x2="438.2" y2="848.3" stroke="#000" stroke-width="1.5"/>
<text x="323.9" y="852.55" font-size="12.2" text-anchor="end">0</text>
<line x1="329.9" y1="818.1" x2="333.5" y2="818.1" stroke="#000" stroke-width="1.5"/>
<text x="323.9" y="822.35" font-size="12.2" text-anchor="end">50</text>
<line x1="329.9" y1="787.9" x2="333.5" y2="787.9" stroke="#000" stroke-width="1.5"/>
<text x="323.9" y="792.15" font-size="12.2" text-anchor="end">100</text>
<line x1="329.9" y1="757.7" x2="333.5" y2="757.7" stroke="#000" stroke-width="1.5"/>
<text x="323.9" y="761.95" font-size="12.2" text-anchor="end">150</text>
<line x1="329.9" y1="727.5" x2="333.5" y2="727.5" stroke="#000" stroke-width="1.5"/>
<text x="323.9" y="731.75" font-size="12.2" text-anchor="end">200</text>
<line x1="333.5" y1="848.3" x2="333.5" y2="852.2" stroke="#000" stroke-width="1.5"/>
<line x1="354.3" y1="848.3" x2="354.3" y2="852.2" stroke="#000" stroke-width="1.5"/>
<line x1="375.1" y1="848.3" x2="375.1" y2="852.2" stroke="#000" stroke-width="1.5"/>
<line x1="395.9" y1="848.3" x2="395.9" y2="852.2" stroke="#000" stroke-width="1.5"/>
<line x1="416.7" y1="848.3" x2="416.7" y2="852.2" stroke="#000" stroke-width="1.5"/>
<line x1="437.5" y1="848.3" x2="437.5" y2="852.2" stroke="#000" stroke-width="1.5"/>
<line x1="344.3" y1="787.1" x2="344.3" y2="788.3" stroke="#000" stroke-width="1.1"/>
<line x1="341.4" y1="787.1" x2="347.2" y2="787.1" stroke="#000" stroke-width="1.1"/>
<line x1="341.4" y1="788.3" x2="347.2" y2="788.3" stroke="#000" stroke-width="1.1"/>
<line x1="365" y1="824.6" x2="365" y2="827.6" stroke="#000" stroke-width="1.1"/>
<line x1="362.1" y1="824.6" x2="367.9" y2="824.6" stroke="#000" stroke-width="1.1"/>
<line x1="362.1" y1="827.6" x2="367.9" y2="827.6" stroke="#000" stroke-width="1.1"/>
<line x1="385.2" y1="819.3" x2="385.2" y2="822.6" stroke="#000" stroke-width="1.1"/>
<line x1="382.3" y1="819.3" x2="388.1" y2="819.3" stroke="#000" stroke-width="1.1"/>
<line x1="382.3" y1="822.6" x2="388.1" y2="822.6" stroke="#000" stroke-width="1.1"/>
<line x1="406.3" y1="757.4" x2="406.3" y2="765.4" stroke="#000" stroke-width="1.1"/>
<line x1="403.4" y1="757.4" x2="409.2" y2="757.4" stroke="#000" stroke-width="1.1"/>
<line x1="403.4" y1="765.4" x2="409.2" y2="765.4" stroke="#000" stroke-width="1.1"/>
<line x1="426.5" y1="765.4" x2="426.5" y2="775.3" stroke="#000" stroke-width="1.1"/>
<line x1="423.6" y1="765.4" x2="429.4" y2="765.4" stroke="#000" stroke-width="1.1"/>
<line x1="423.6" y1="775.3" x2="429.4" y2="775.3" stroke="#000" stroke-width="1.1"/>
<polyline points="344.3,787.7 365,826.2 385.2,820.7 406.3,761.5 426.5,770.2" fill="none" stroke="#000" stroke-width="2.1" stroke-linejoin="round" stroke-linecap="round"/>
<circle cx="344.3" cy="787.7" r="1.4" fill="#000"/>
<circle cx="365" cy="826.2" r="1.4" fill="#000"/>
<circle cx="385.2" cy="820.7" r="1.4" fill="#000"/>
<circle cx="406.3" cy="761.5" r="1.4" fill="#000"/>
<circle cx="426.5" cy="770.2" r="1.4" fill="#000"/>
<text x="365.2" y="824.2" font-size="15" text-anchor="middle" font-weight="bold">*</text>
<text x="383.4" y="817.3" font-size="15" text-anchor="middle" font-weight="bold">*</text>
<text x="405.4" y="755.8" font-size="15" text-anchor="middle" font-weight="bold">*</text>
<text x="426" y="763.8" font-size="15" text-anchor="middle" font-weight="bold">*</text>
<text x="344.3" y="866" font-size="12.1" text-anchor="middle">0</text>
<text x="365" y="866" font-size="12.1" text-anchor="middle">1</text>
<text x="385.2" y="866" font-size="12.1" text-anchor="middle">2.5</text>
<text x="406.3" y="866" font-size="12.1" text-anchor="middle">5</text>
<text x="426.5" y="866" font-size="12.1" text-anchor="middle">10</text>
<text x="428.8" y="877.9" font-size="10.4" text-anchor="middle">(µM)</text>
<text x="383.7" y="705.3" font-size="15" text-anchor="middle">E-cad</text>
<text x="291.8" y="791.9" font-size="11.9" text-anchor="middle" transform="rotate(-90 291.8 791.9)">Relative density (% of control)</text>
<line x1="500.8" y1="726.1" x2="500.8" y2="847.8" stroke="#000" stroke-width="1.5"/>
<line x1="497.2" y1="847.1" x2="603.7" y2="847.1" stroke="#000" stroke-width="1.5"/>
<text x="490.4" y="851.35" font-size="12.3" text-anchor="end">0</text>
<line x1="497.2" y1="816.92" x2="500.8" y2="816.92" stroke="#000" stroke-width="1.5"/>
<text x="490.4" y="821.17" font-size="12.3" text-anchor="end">50</text>
<line x1="497.2" y1="786.75" x2="500.8" y2="786.75" stroke="#000" stroke-width="1.5"/>
<text x="490.4" y="791" font-size="12.3" text-anchor="end">100</text>
<line x1="497.2" y1="756.58" x2="500.8" y2="756.58" stroke="#000" stroke-width="1.5"/>
<text x="490.4" y="760.83" font-size="12.3" text-anchor="end">150</text>
<line x1="497.2" y1="726.4" x2="500.8" y2="726.4" stroke="#000" stroke-width="1.5"/>
<text x="490.4" y="730.65" font-size="12.3" text-anchor="end">200</text>
<line x1="500.8" y1="847.1" x2="500.8" y2="851" stroke="#000" stroke-width="1.5"/>
<line x1="521.24" y1="847.1" x2="521.24" y2="851" stroke="#000" stroke-width="1.5"/>
<line x1="541.68" y1="847.1" x2="541.68" y2="851" stroke="#000" stroke-width="1.5"/>
<line x1="562.12" y1="847.1" x2="562.12" y2="851" stroke="#000" stroke-width="1.5"/>
<line x1="582.56" y1="847.1" x2="582.56" y2="851" stroke="#000" stroke-width="1.5"/>
<line x1="603" y1="847.1" x2="603" y2="851" stroke="#000" stroke-width="1.5"/>
<line x1="511.1" y1="786.1" x2="511.1" y2="787.3" stroke="#000" stroke-width="1.1"/>
<line x1="508.2" y1="786.1" x2="514" y2="786.1" stroke="#000" stroke-width="1.1"/>
<line x1="508.2" y1="787.3" x2="514" y2="787.3" stroke="#000" stroke-width="1.1"/>
<line x1="531.1" y1="776.9" x2="531.1" y2="782.4" stroke="#000" stroke-width="1.1"/>
<line x1="528.2" y1="776.9" x2="534" y2="776.9" stroke="#000" stroke-width="1.1"/>
<line x1="528.2" y1="782.4" x2="534" y2="782.4" stroke="#000" stroke-width="1.1"/>
<line x1="551.7" y1="766.8" x2="551.7" y2="779.2" stroke="#000" stroke-width="1.1"/>
<line x1="548.8" y1="766.8" x2="554.6" y2="766.8" stroke="#000" stroke-width="1.1"/>
<line x1="548.8" y1="779.2" x2="554.6" y2="779.2" stroke="#000" stroke-width="1.1"/>
<line x1="572.9" y1="840.1" x2="572.9" y2="841.3" stroke="#000" stroke-width="1.1"/>
<line x1="570" y1="840.1" x2="575.8" y2="840.1" stroke="#000" stroke-width="1.1"/>
<line x1="570" y1="841.3" x2="575.8" y2="841.3" stroke="#000" stroke-width="1.1"/>
<line x1="593.1" y1="825" x2="593.1" y2="827.6" stroke="#000" stroke-width="1.1"/>
<line x1="590.2" y1="825" x2="596" y2="825" stroke="#000" stroke-width="1.1"/>
<line x1="590.2" y1="827.6" x2="596" y2="827.6" stroke="#000" stroke-width="1.1"/>
<polyline points="511.1,786.7 531.1,779.9 551.7,772.5 572.9,840.7 593.1,826.2" fill="none" stroke="#000" stroke-width="2.1" stroke-linejoin="round" stroke-linecap="round"/>
<circle cx="511.1" cy="786.7" r="1.4" fill="#000"/>
<circle cx="531.1" cy="779.9" r="1.4" fill="#000"/>
<circle cx="551.7" cy="772.5" r="1.4" fill="#000"/>
<circle cx="572.9" cy="840.7" r="1.4" fill="#000"/>
<circle cx="593.1" cy="826.2" r="1.4" fill="#000"/>
<text x="530.4" y="775.3" font-size="15" text-anchor="middle" font-weight="bold">*</text>
<text x="551.1" y="759.9" font-size="15" text-anchor="middle" font-weight="bold">*</text>
<text x="575.4" y="837.3" font-size="15" text-anchor="middle" font-weight="bold">*</text>
<text x="591.9" y="823.9" font-size="15" text-anchor="middle" font-weight="bold">*</text>
<text x="511.1" y="864.8" font-size="12.1" text-anchor="middle">0</text>
<text x="531.1" y="864.8" font-size="12.1" text-anchor="middle">1</text>
<text x="551.7" y="864.8" font-size="12.1" text-anchor="middle">2.5</text>
<text x="572.9" y="864.8" font-size="12.1" text-anchor="middle">5</text>
<text x="593.1" y="864.8" font-size="12.1" text-anchor="middle">10</text>
<text x="595.9" y="877.5" font-size="10.4" text-anchor="middle">(µM)</text>
<text x="547.4" y="705.3" font-size="15" text-anchor="middle">N-cad</text>
<text x="463" y="791.7" font-size="11.9" text-anchor="middle" transform="rotate(-90 463 791.7)">Relative density (% of control)</text>
<line x1="665.1" y1="727.2" x2="665.1" y2="849.4" stroke="#000" stroke-width="1.5"/>
<line x1="661.5" y1="848.7" x2="768.8" y2="848.7" stroke="#000" stroke-width="1.5"/>
<text x="655.5" y="852.95" font-size="12.3" text-anchor="end">0</text>
<line x1="661.5" y1="831.39" x2="665.1" y2="831.39" stroke="#000" stroke-width="1.5"/>
<text x="655.5" y="835.64" font-size="12.3" text-anchor="end">50</text>
<line x1="661.5" y1="814.07" x2="665.1" y2="814.07" stroke="#000" stroke-width="1.5"/>
<text x="655.5" y="818.32" font-size="12.3" text-anchor="end">100</text>
<line x1="661.5" y1="796.76" x2="665.1" y2="796.76" stroke="#000" stroke-width="1.5"/>
<text x="655.5" y="801.01" font-size="12.3" text-anchor="end">150</text>
<line x1="661.5" y1="779.44" x2="665.1" y2="779.44" stroke="#000" stroke-width="1.5"/>
<text x="655.5" y="783.69" font-size="12.3" text-anchor="end">200</text>
<line x1="661.5" y1="762.13" x2="665.1" y2="762.13" stroke="#000" stroke-width="1.5"/>
<text x="655.5" y="766.38" font-size="12.3" text-anchor="end">250</text>
<line x1="661.5" y1="744.81" x2="665.1" y2="744.81" stroke="#000" stroke-width="1.5"/>
<text x="655.5" y="749.06" font-size="12.3" text-anchor="end">300</text>
<line x1="661.5" y1="727.5" x2="665.1" y2="727.5" stroke="#000" stroke-width="1.5"/>
<text x="655.5" y="731.75" font-size="12.3" text-anchor="end">350</text>
<line x1="665.1" y1="848.7" x2="665.1" y2="852.6" stroke="#000" stroke-width="1.5"/>
<line x1="685.7" y1="848.7" x2="685.7" y2="852.6" stroke="#000" stroke-width="1.5"/>
<line x1="706.3" y1="848.7" x2="706.3" y2="852.6" stroke="#000" stroke-width="1.5"/>
<line x1="726.9" y1="848.7" x2="726.9" y2="852.6" stroke="#000" stroke-width="1.5"/>
<line x1="747.5" y1="848.7" x2="747.5" y2="852.6" stroke="#000" stroke-width="1.5"/>
<line x1="768.1" y1="848.7" x2="768.1" y2="852.6" stroke="#000" stroke-width="1.5"/>
<line x1="675.6" y1="813.2" x2="675.6" y2="814.4" stroke="#000" stroke-width="1.1"/>
<line x1="672.7" y1="813.2" x2="678.5" y2="813.2" stroke="#000" stroke-width="1.1"/>
<line x1="672.7" y1="814.4" x2="678.5" y2="814.4" stroke="#000" stroke-width="1.1"/>
<line x1="696.3" y1="748.4" x2="696.3" y2="776.4" stroke="#000" stroke-width="1.1"/>
<line x1="693.4" y1="748.4" x2="699.2" y2="748.4" stroke="#000" stroke-width="1.1"/>
<line x1="693.4" y1="776.4" x2="699.2" y2="776.4" stroke="#000" stroke-width="1.1"/>
<line x1="716.5" y1="768.6" x2="716.5" y2="774.6" stroke="#000" stroke-width="1.1"/>
<line x1="713.6" y1="768.6" x2="719.4" y2="768.6" stroke="#000" stroke-width="1.1"/>
<line x1="713.6" y1="774.6" x2="719.4" y2="774.6" stroke="#000" stroke-width="1.1"/>
<line x1="737.1" y1="770.2" x2="737.1" y2="776" stroke="#000" stroke-width="1.1"/>
<line x1="734.2" y1="770.2" x2="740" y2="770.2" stroke="#000" stroke-width="1.1"/>
<line x1="734.2" y1="776" x2="740" y2="776" stroke="#000" stroke-width="1.1"/>
<line x1="758.3" y1="813.1" x2="758.3" y2="817.3" stroke="#000" stroke-width="1.1"/>
<line x1="755.4" y1="813.1" x2="761.2" y2="813.1" stroke="#000" stroke-width="1.1"/>
<line x1="755.4" y1="817.3" x2="761.2" y2="817.3" stroke="#000" stroke-width="1.1"/>
<polyline points="675.6,813.8 696.3,762.6 716.5,771.8 737.1,773.4 758.3,815.4" fill="none" stroke="#000" stroke-width="2.1" stroke-linejoin="round" stroke-linecap="round"/>
<circle cx="675.6" cy="813.8" r="1.4" fill="#000"/>
<circle cx="696.3" cy="762.6" r="1.4" fill="#000"/>
<circle cx="716.5" cy="771.8" r="1.4" fill="#000"/>
<circle cx="737.1" cy="773.4" r="1.4" fill="#000"/>
<circle cx="758.3" cy="815.4" r="1.4" fill="#000"/>
<text x="695.4" y="747" font-size="15" text-anchor="middle" font-weight="bold">*</text>
<text x="715.1" y="767.2" font-size="15" text-anchor="middle" font-weight="bold">*</text>
<text x="736.5" y="770" font-size="15" text-anchor="middle" font-weight="bold">*</text>
<text x="757.8" y="812.7" font-size="15" text-anchor="middle" font-weight="bold">*</text>
<text x="675.6" y="865.5" font-size="12.1" text-anchor="middle">0</text>
<text x="696.3" y="865.5" font-size="12.1" text-anchor="middle">1</text>
<text x="716.5" y="865.5" font-size="12.1" text-anchor="middle">2.5</text>
<text x="737.1" y="865.5" font-size="12.1" text-anchor="middle">5</text>
<text x="758.3" y="865.5" font-size="12.1" text-anchor="middle">10</text>
<text x="760.5" y="877.9" font-size="10.4" text-anchor="middle">(µM)</text>
<text x="719.3" y="705.3" font-size="15" text-anchor="middle">Snail</text>
<text x="631.3" y="791.9" font-size="11.9" text-anchor="middle" transform="rotate(-90 631.3 791.9)">Relative density (% of control)</text>
<defs>
<filter id="txS" x="0" y="0" width="100%" height="100%" color-interpolation-filters="sRGB"><feTurbulence type="fractalNoise" baseFrequency="1.3" numOctaves="1" seed="7"/><feColorMatrix type="matrix" values="1 0 0 0 0  1 0 0 0 0  1 0 0 0 0  0 0 0 0 1"/><feConvolveMatrix order="3" kernelMatrix="0 1 0 1 4 1 0 1 0" divisor="8" edgeMode="duplicate" preserveAlpha="true"/><feColorMatrix type="matrix" values="1.9 0 0 0 -0.44999999999999996  1.9 0 0 0 -0.44999999999999996  1.9 0 0 0 -0.44999999999999996  0 0 0 0 1"/><feComponentTransfer><feFuncR type="table" tableValues=".2 .2 .21 .225 .245 .275 .33 .43 .58 .75 .85"/><feFuncG type="table" tableValues=".2 .2 .21 .225 .245 .275 .33 .43 .58 .75 .85"/><feFuncB type="table" tableValues=".2 .2 .21 .225 .245 .275 .33 .43 .58 .75 .85"/></feComponentTransfer><feComponentTransfer result="fine"><feFuncA type="linear" slope="0" intercept="1"/></feComponentTransfer><feTurbulence type="fractalNoise" baseFrequency="0.05" numOctaves="2" seed="4"/><feColorMatrix type="matrix" values="1 0 0 0 0  1 0 0 0 0  1 0 0 0 0  0 0 0 0 1"/><feComponentTransfer result="coarse"><feFuncR type="table" tableValues=".8 .84 .88 .92 .96 1 1 1 1 1 1"/><feFuncG type="table" tableValues=".8 .84 .88 .92 .96 1 1 1 1 1 1"/><feFuncB type="table" tableValues=".8 .84 .88 .92 .96 1 1 1 1 1 1"/></feComponentTransfer><feComposite in="fine" in2="coarse" operator="arithmetic" k1="1" k2="0" k3="0" k4="0"/></filter>
<filter id="txS2" x="0" y="0" width="100%" height="100%" color-interpolation-filters="sRGB"><feTurbulence type="fractalNoise" baseFrequency="1.3" numOctaves="1" seed="23"/><feColorMatrix type="matrix" values="1 0 0 0 0  1 0 0 0 0  1 0 0 0 0  0 0 0 0 1"/><feConvolveMatrix order="3" kernelMatrix="0 1 0 1 4 1 0 1 0" divisor="8" edgeMode="duplicate" preserveAlpha="true"/><feColorMatrix type="matrix" values="2.1 0 0 0 -0.55  2.1 0 0 0 -0.55  2.1 0 0 0 -0.55  0 0 0 0 1"/><feComponentTransfer><feFuncR type="table" tableValues=".1 .11 .13 .16 .2 .26 .34 .44 .56 .68 .78"/><feFuncG type="table" tableValues=".1 .11 .13 .16 .2 .26 .34 .44 .56 .68 .78"/><feFuncB type="table" tableValues=".1 .11 .13 .16 .2 .26 .34 .44 .56 .68 .78"/></feComponentTransfer><feComponentTransfer result="fine"><feFuncA type="linear" slope="0" intercept="1"/></feComponentTransfer><feTurbulence type="fractalNoise" baseFrequency="0.09" numOctaves="2" seed="9"/><feColorMatrix type="matrix" values="1 0 0 0 0  1 0 0 0 0  1 0 0 0 0  0 0 0 0 1"/><feComponentTransfer result="coarse"><feFuncR type="table" tableValues=".6 .7 .8 .88 .96 1 1 1 1 1 1"/><feFuncG type="table" tableValues=".6 .7 .8 .88 .96 1 1 1 1 1 1"/><feFuncB type="table" tableValues=".6 .7 .8 .88 .96 1 1 1 1 1 1"/></feComponentTransfer><feComposite in="fine" in2="coarse" operator="arithmetic" k1="1" k2="0" k3="0" k4="0"/></filter>
<filter id="txR" x="0" y="0" width="100%" height="100%" color-interpolation-filters="sRGB"><feTurbulence type="fractalNoise" baseFrequency="1.3" numOctaves="1" seed="11"/><feColorMatrix type="matrix" values="1 0 0 0 0  1 0 0 0 0  1 0 0 0 0  0 0 0 0 1"/><feConvolveMatrix order="3" kernelMatrix="0 1 0 1 4 1 0 1 0" divisor="8" edgeMode="duplicate" preserveAlpha="true"/><feColorMatrix type="matrix" values="1.9 0 0 0 -0.44999999999999996  1.9 0 0 0 -0.44999999999999996  1.9 0 0 0 -0.44999999999999996  0 0 0 0 1"/><feComponentTransfer><feFuncR type="table" tableValues=".1 .18 .26 .33 .4 .465 .53 .59 .65 .73 .8"/><feFuncG type="table" tableValues=".1 .18 .26 .33 .4 .465 .53 .59 .65 .73 .8"/><feFuncB type="table" tableValues=".1 .18 .26 .33 .4 .465 .53 .59 .65 .73 .8"/></feComponentTransfer><feComponentTransfer result="fine"><feFuncA type="linear" slope="0" intercept="1"/></feComponentTransfer><feTurbulence type="fractalNoise" baseFrequency="0.1" numOctaves="2" seed="5"/><feColorMatrix type="matrix" values="1 0 0 0 0  1 0 0 0 0  1 0 0 0 0  0 0 0 0 1"/><feComponentTransfer result="coarse"><feFuncR type="table" tableValues=".7 .8 .9 .95 1 1 1 1 1 1 1"/><feFuncG type="table" tableValues=".7 .8 .9 .95 1 1 1 1 1 1 1"/><feFuncB type="table" tableValues=".7 .8 .9 .95 1 1 1 1 1 1 1"/></feComponentTransfer><feComposite in="fine" in2="coarse" operator="arithmetic" k1="1" k2="0" k3="0" k4="0"/></filter>
<filter id="txR2" x="0" y="0" width="100%" height="100%" color-interpolation-filters="sRGB"><feTurbulence type="fractalNoise" baseFrequency="1.3" numOctaves="1" seed="31"/><feColorMatrix type="matrix" values="1 0 0 0 0  1 0 0 0 0  1 0 0 0 0  0 0 0 0 1"/><feConvolveMatrix order="3" kernelMatrix="0 1 0 1 4 1 0 1 0" divisor="8" edgeMode="duplicate" preserveAlpha="true"/><feColorMatrix type="matrix" values="1.9 0 0 0 -0.44999999999999996  1.9 0 0 0 -0.44999999999999996  1.9 0 0 0 -0.44999999999999996  0 0 0 0 1"/><feComponentTransfer><feFuncR type="table" tableValues=".05 .1 .17 .25 .33 .41 .48 .55 .62 .7 .8"/><feFuncG type="table" tableValues=".05 .1 .17 .25 .33 .41 .48 .55 .62 .7 .8"/><feFuncB type="table" tableValues=".05 .1 .17 .25 .33 .41 .48 .55 .62 .7 .8"/></feComponentTransfer><feComponentTransfer result="fine"><feFuncA type="linear" slope="0" intercept="1"/></feComponentTransfer><feTurbulence type="fractalNoise" baseFrequency="0.13" numOctaves="2" seed="8"/><feColorMatrix type="matrix" values="1 0 0 0 0  1 0 0 0 0  1 0 0 0 0  0 0 0 0 1"/><feComponentTransfer result="coarse"><feFuncR type="table" tableValues=".3 .4 .55 .75 .92 1 1 1 1 1 1"/><feFuncG type="table" tableValues=".3 .4 .55 .75 .92 1 1 1 1 1 1"/><feFuncB type="table" tableValues=".3 .4 .55 .75 .92 1 1 1 1 1 1"/></feComponentTransfer><feComposite in="fine" in2="coarse" operator="arithmetic" k1="1" k2="0" k3="0" k4="0"/></filter>
<pattern id="hatch" width="3.05" height="3.05" patternUnits="userSpaceOnUse" patternTransform="rotate(-45)">
<rect width="3.05" height="3.05" fill="#fff"/><rect width="3.05" height="1.2" fill="#000"/>
</pattern>
</defs>
<text x="12.1" y="904.8" font-size="27.8">C</text>
<text x="80.3" y="915.2" font-size="16.3" font-weight="bold">1) Huh7-S cells</text>
<text x="87.8" y="937.4" font-size="11.8" text-anchor="middle" style="stroke-width:.5px">0 µM</text>
<text x="199.6" y="937.4" font-size="11.8" text-anchor="middle" style="stroke-width:.5px">5 µM</text>
<text x="22.8" y="984.8" font-size="11.8" text-anchor="end" style="stroke-width:.5px">0 h</text>
<text x="22.8" y="1078.4" font-size="11.8" text-anchor="end" style="stroke-width:.5px">72 h</text>
<rect x="29" y="943.2" width="109.5" height="81.6" fill="#777" filter="url(#txS)"/>
<rect x="69.1" y="943.2" width="28.2" height="81.6" fill="#3e3e3e"/>
<line x1="69.1" y1="943.2" x2="69.1" y2="1024.8" stroke="#fff" stroke-width="1.6"/>
<line x1="97.3" y1="943.2" x2="97.3" y2="1024.8" stroke="#fff" stroke-width="1.6"/>
<rect x="29" y="943.2" width="109.5" height="81.6" fill="none" stroke="#000" stroke-width="1.4"/>
<rect x="144.7" y="943.2" width="110.1" height="81.6" fill="#777" filter="url(#txS)"/>
<rect x="185.6" y="943.2" width="30.3" height="81.6" fill="#424242"/>
<line x1="185.6" y1="943.2" x2="185.6" y2="1024.8" stroke="#fff" stroke-width="1.6"/>
<line x1="215.9" y1="943.2" x2="215.9" y2="1024.8" stroke="#fff" stroke-width="1.6"/>
<rect x="144.7" y="943.2" width="110.1" height="81.6" fill="none" stroke="#000" stroke-width="1.4"/>
<rect x="29" y="1030.9" width="109.5" height="82.3" fill="#777" filter="url(#txS2)"/>
<rect x="73.2" y="1030.9" width="16.4" height="82.3" fill="#282828"/>
<line x1="73.2" y1="1030.9" x2="73.2" y2="1113.2" stroke="#fff" stroke-width="1.6"/>
<line x1="89.6" y1="1030.9" x2="89.6" y2="1113.2" stroke="#fff" stroke-width="1.6"/>
<rect x="29" y="1030.9" width="109.5" height="82.3" fill="none" stroke="#000" stroke-width="1.4"/>
<rect x="144.7" y="1030.9" width="110.1" height="82.3" fill="#777" filter="url(#txS2)"/>
<rect x="189.8" y="1030.9" width="26.2" height="82.3" fill="#282828"/>
<line x1="189.8" y1="1030.9" x2="189.8" y2="1113.2" stroke="#fff" stroke-width="1.6"/>
<line x1="216" y1="1030.9" x2="216" y2="1113.2" stroke="#fff" stroke-width="1.6"/>
<rect x="144.7" y="1030.9" width="110.1" height="82.3" fill="none" stroke="#000" stroke-width="1.4"/>
<text x="471.7" y="916.4" font-size="16.35" font-weight="bold">2) Huh7-R cells</text>
<text x="478.1" y="939.8" font-size="11.8" text-anchor="middle" style="stroke-width:.5px">0 µM</text>
<text x="590.7" y="939.8" font-size="11.8" text-anchor="middle" style="stroke-width:.5px">5 µM</text>
<text x="413.3" y="984.8" font-size="11.8" text-anchor="end" style="stroke-width:.5px">0 h</text>
<text x="413.3" y="1078.6" font-size="11.8" text-anchor="end" style="stroke-width:.5px">72 h</text>
<rect x="419.2" y="944.8" width="112.8" height="81.9" fill="#777" filter="url(#txR)"/>
<rect x="459.7" y="944.8" width="30.5" height="81.9" fill="#171717"/>
<line x1="459.7" y1="944.8" x2="459.7" y2="1026.7" stroke="#fff" stroke-width="1.6"/>
<line x1="490.2" y1="944.8" x2="490.2" y2="1026.7" stroke="#fff" stroke-width="1.6"/>
<rect x="419.2" y="944.8" width="112.8" height="81.9" fill="none" stroke="#000" stroke-width="1.4"/>
<rect x="536" y="944.8" width="111" height="81.9" fill="#777" filter="url(#txR)"/>
<rect x="575" y="944.8" width="30" height="81.9" fill="#171717"/>
<line x1="575" y1="944.8" x2="575" y2="1026.7" stroke="#fff" stroke-width="1.6"/>
<line x1="605" y1="944.8" x2="605" y2="1026.7" stroke="#fff" stroke-width="1.6"/>
<rect x="536" y="944.8" width="111" height="81.9" fill="none" stroke="#000" stroke-width="1.4"/>
<rect x="419.2" y="1032.6" width="112.8" height="83.6" fill="#777" filter="url(#txR2)"/>
<rect x="464.6" y="1032.6" width="21.9" height="83.6" fill="#1c1c1c"/>
<line x1="464.6" y1="1032.6" x2="464.6" y2="1116.2" stroke="#fff" stroke-width="1.6"/>
<line x1="486.5" y1="1032.6" x2="486.5" y2="1116.2" stroke="#fff" stroke-width="1.6"/>
<rect x="419.2" y="1032.6" width="112.8" height="83.6" fill="none" stroke="#000" stroke-width="1.4"/>
<rect x="536" y="1032.6" width="111" height="83.6" fill="#777" filter="url(#txR2)"/>
<rect x="579" y="1032.6" width="25" height="83.6" fill="#1c1c1c"/>
<line x1="579" y1="1032.6" x2="579" y2="1116.2" stroke="#fff" stroke-width="1.6"/>
<line x1="604" y1="1032.6" x2="604" y2="1116.2" stroke="#fff" stroke-width="1.6"/>
<rect x="536" y="1032.6" width="111" height="83.6" fill="none" stroke="#000" stroke-width="1.4"/>
<rect x="320.7" y="981.5" width="12.9" height="117.5" fill="url(#hatch)" stroke="#000" stroke-width="1.1"/>
<line x1="358.6" y1="1057.6" x2="358.6" y2="1063.7" stroke="#000" stroke-width="1.1"/>
<line x1="355.5" y1="1057.6" x2="361.7" y2="1057.6" stroke="#000" stroke-width="1.1"/>
<line x1="355.5" y1="1063.7" x2="361.7" y2="1063.7" stroke="#000" stroke-width="1.1"/>
<rect x="351.8" y="1060.6" width="13.6" height="38.4" fill="#000" stroke="#000" stroke-width="1"/>
<line x1="311.7" y1="957.7" x2="311.7" y2="1099.7" stroke="#000" stroke-width="1.5"/>
<line x1="308.1" y1="1099" x2="375.1" y2="1099" stroke="#000" stroke-width="1.5"/>
<text x="300.9" y="1103.07" font-size="11.3" text-anchor="end" style="stroke-width:.45px">0</text>
<line x1="308.1" y1="1075.5" x2="311.7" y2="1075.5" stroke="#000" stroke-width="1.5"/>
<text x="300.9" y="1079.57" font-size="11.3" text-anchor="end" style="stroke-width:.45px">20</text>
<line x1="308.1" y1="1052" x2="311.7" y2="1052" stroke="#000" stroke-width="1.5"/>
<text x="300.9" y="1056.07" font-size="11.3" text-anchor="end" style="stroke-width:.45px">40</text>
<line x1="308.1" y1="1028.5" x2="311.7" y2="1028.5" stroke="#000" stroke-width="1.5"/>
<text x="300.9" y="1032.57" font-size="11.3" text-anchor="end" style="stroke-width:.45px">60</text>
<line x1="308.1" y1="1005" x2="311.7" y2="1005" stroke="#000" stroke-width="1.5"/>
<text x="300.9" y="1009.07" font-size="11.3" text-anchor="end" style="stroke-width:.45px">80</text>
<line x1="308.1" y1="981.5" x2="311.7" y2="981.5" stroke="#000" stroke-width="1.5"/>
<text x="300.9" y="985.57" font-size="11.3" text-anchor="end" style="stroke-width:.45px">100</text>
<line x1="308.1" y1="958" x2="311.7" y2="958" stroke="#000" stroke-width="1.5"/>
<text x="300.9" y="962.07" font-size="11.3" text-anchor="end" style="stroke-width:.45px">120</text>
<line x1="311.7" y1="1099" x2="311.7" y2="1102.2" stroke="#000" stroke-width="1.5"/>
<line x1="343.05" y1="1099" x2="343.05" y2="1102.2" stroke="#000" stroke-width="1.5"/>
<line x1="374.4" y1="1099" x2="374.4" y2="1102.2" stroke="#000" stroke-width="1.5"/>
<polyline points="328.4,967.2 328.4,956.4 358.6,956.4 358.6,1046" fill="none" stroke="#222" stroke-width="0.9"/>
<text x="344.5" y="958.1" font-size="15" text-anchor="middle" font-weight="bold">*</text>
<text x="326.8" y="1116.7" font-size="11.9" text-anchor="middle" style="stroke-width:.45px">0</text>
<text x="359" y="1116.7" font-size="11.9" text-anchor="middle" style="stroke-width:.45px">5</text>
<text x="365.2" y="1116.9" font-size="11.5">(µM)</text>
<text x="276" y="1021.8" font-size="13.2" text-anchor="middle" transform="rotate(-90 276 1021.8)">Cell invasion (% of control)</text>
<rect x="715.1" y="981.47" width="13.2" height="117.33" fill="url(#hatch)" stroke="#000" stroke-width="1.1"/>
<line x1="753.35" y1="1059.5" x2="753.35" y2="1064" stroke="#000" stroke-width="1.1"/>
<line x1="750.25" y1="1059.5" x2="756.45" y2="1059.5" stroke="#000" stroke-width="1.1"/>
<line x1="750.25" y1="1064" x2="756.45" y2="1064" stroke="#000" stroke-width="1.1"/>
<rect x="746.7" y="1061.6" width="13.3" height="37.2" fill="#000" stroke="#000" stroke-width="1"/>
<line x1="705.6" y1="957.7" x2="705.6" y2="1099.5" stroke="#000" stroke-width="1.5"/>
<line x1="702" y1="1098.8" x2="769.7" y2="1098.8" stroke="#000" stroke-width="1.5"/>
<text x="695.5" y="1102.87" font-size="11.3" text-anchor="end" style="stroke-width:.45px">0</text>
<line x1="702" y1="1075.33" x2="705.6" y2="1075.33" stroke="#000" stroke-width="1.5"/>
<text x="695.5" y="1079.4" font-size="11.3" text-anchor="end" style="stroke-width:.45px">20</text>
<line x1="702" y1="1051.87" x2="705.6" y2="1051.87" stroke="#000" stroke-width="1.5"/>
<text x="695.5" y="1055.93" font-size="11.3" text-anchor="end" style="stroke-width:.45px">40</text>
<line x1="702" y1="1028.4" x2="705.6" y2="1028.4" stroke="#000" stroke-width="1.5"/>
<text x="695.5" y="1032.47" font-size="11.3" text-anchor="end" style="stroke-width:.45px">60</text>
<line x1="702" y1="1004.93" x2="705.6" y2="1004.93" stroke="#000" stroke-width="1.5"/>
<text x="695.5" y="1009" font-size="11.3" text-anchor="end" style="stroke-width:.45px">80</text>
<line x1="702" y1="981.47" x2="705.6" y2="981.47" stroke="#000" stroke-width="1.5"/>
<text x="695.5" y="985.53" font-size="11.3" text-anchor="end" style="stroke-width:.45px">100</text>
<line x1="702" y1="958" x2="705.6" y2="958" stroke="#000" stroke-width="1.5"/>
<text x="695.5" y="962.07" font-size="11.3" text-anchor="end" style="stroke-width:.45px">120</text>
<line x1="705.6" y1="1098.8" x2="705.6" y2="1102" stroke="#000" stroke-width="1.5"/>
<line x1="737.3" y1="1098.8" x2="737.3" y2="1102" stroke="#000" stroke-width="1.5"/>
<line x1="769" y1="1098.8" x2="769" y2="1102" stroke="#000" stroke-width="1.5"/>
<polyline points="720.8,967.5 720.8,956.8 753.3,956.8 753.3,1046" fill="none" stroke="#222" stroke-width="0.9"/>
<text x="737.2" y="958.3" font-size="15" text-anchor="middle" font-weight="bold">*</text>
<text x="721.1" y="1116.7" font-size="11.9" text-anchor="middle" style="stroke-width:.45px">0</text>
<text x="753.3" y="1116.7" font-size="11.9" text-anchor="middle" style="stroke-width:.45px">5</text>
<text x="759.7" y="1116.9" font-size="11.5">(µM)</text>
<text x="669.8" y="1024.6" font-size="13.2" text-anchor="middle" transform="rotate(-90 669.8 1024.6)">Cell invasion (% of control)</text>
</svg>
</body></html>
